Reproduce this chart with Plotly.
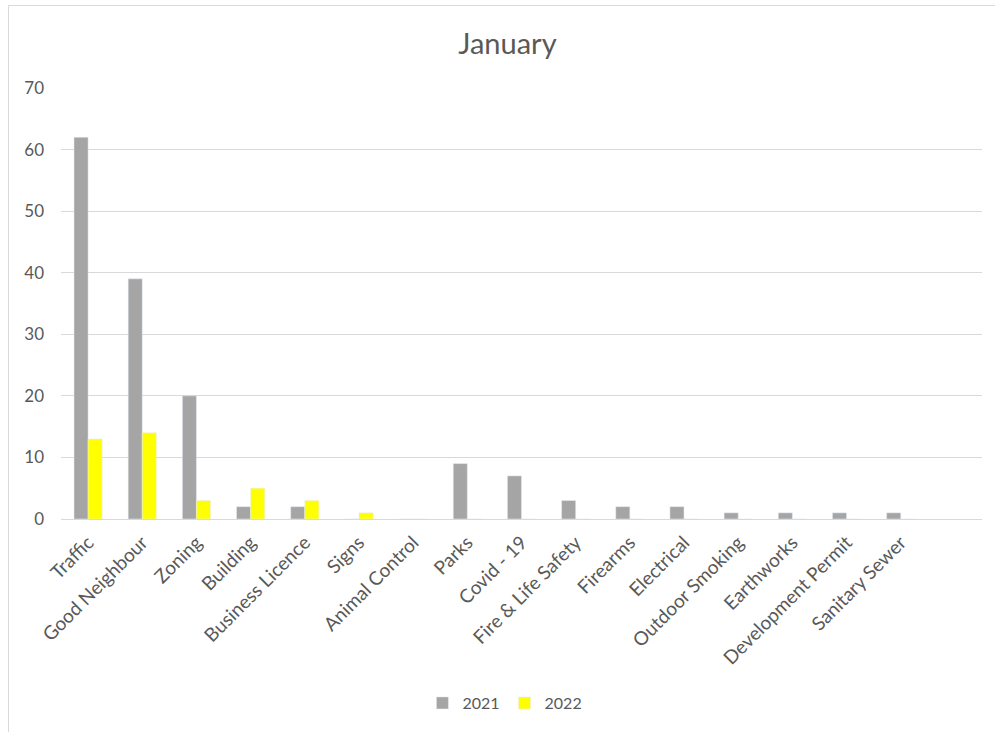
import plotly.graph_objects as go

categories = ["Traffic", "Good Neighbour", "Zoning", "Building", "Business Licence", "Signs",
              "Animal Control", "Parks", "Covid - 19", "Fire & Life Safety", "Firearms",
              "Electrical", "Outdoor Smoking", "Earthworks", "Development Permit", "Sanitary Sewer"]
values_2021 = [62, 39, 20, 2, 2, 0, 0, 9, 7, 3, 2, 2, 1, 1, 1, 1]
values_2022 = [13, 14, 3, 5, 3, 1, 0, 0, 0, 0, 0, 0, 0, 0, 0, 0]
y_ticks = [0, 10, 20, 30, 40, 50, 60, 70]

FONT = "Lato, Open Sans, sans-serif"
TXT = "#595959"

fig = go.Figure()
fig.add_trace(go.Bar(name="2021", x=categories, y=values_2021, marker_color="#A5A5A5"))
fig.add_trace(go.Bar(name="2022", x=categories, y=values_2022, marker_color="#FFFF00"))

fig.update_layout(
    width=995, height=732,
    margin=dict(l=61, r=13, t=88, b=213, autoexpand=False),
    paper_bgcolor="white", plot_bgcolor="white",
    barmode="group", bargap=0.48, bargroupgap=0,
    title=dict(text="January", x=0.51, xref="container", xanchor="center",
               y=1 - 44 / 732, yref="container", yanchor="middle",
               font=dict(family=FONT, size=29, color=TXT)),
    legend=dict(orientation="h", x=0.482, xanchor="center", y=-0.427, yanchor="middle",
                font=dict(family=FONT, size=16, color=TXT), traceorder="normal"),
    showlegend=True,
    font=dict(family=FONT, color=TXT),
)
fig.update_xaxes(range=[-0.5, 16.5], tickangle=-45, showgrid=False, showline=True,
                 linecolor="#D9D9D9", linewidth=1, ticks="", ticklabelstandoff=4,
                 tickfont=dict(family=FONT, size=19, color=TXT))
fig.update_yaxes(range=[0, 70], tickvals=y_ticks, showgrid=True, gridcolor="#D9D9D9", gridwidth=1,
                 zeroline=False, showline=False, ticks="", ticklabelstandoff=16,
                 tickfont=dict(family=FONT, size=17, color=TXT))
fig.add_shape(type="rect", xref="paper", yref="paper",
              x0=(8.5 - 61) / 921, x1=(1100 - 61) / 921,
              y0=(519 - 800) / 431, y1=(519 - 5.5) / 431,
              line=dict(color="#D9D9D9", width=1), fillcolor="rgba(0,0,0,0)", layer="below")

fig.write_html("out.html")
